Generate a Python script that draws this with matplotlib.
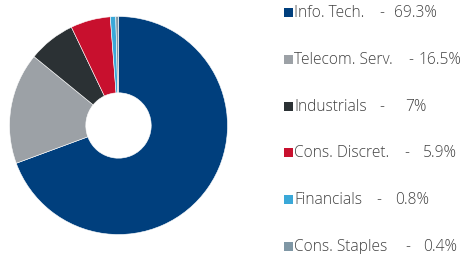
import matplotlib
matplotlib.use("Agg")
import matplotlib.pyplot as plt
from matplotlib.patches import Rectangle

# sector weights, in clockwise order from 12 o'clock
sectors = ["Info. Tech.", "Telecom. Serv.", "Industrials", "Cons. Discret.",
           "Financials", "Cons. Staples"]
weights = [69.3, 16.5, 7.0, 5.9, 0.8, 0.4]
weight_labels = ["69.3%", "16.5%", "7%", "5.9%", "0.8%", "0.4%"]
colors = ["#003f7d", "#9ca1a6", "#2b3134", "#c8102e", "#3aa8d8", "#7f97a5"]

W, H = 461, 255
fig = plt.figure(figsize=(W / 100, H / 100), dpi=100)

# donut
cx, cy, r = 118.5, H - 126.5, 109
ax = fig.add_axes([(cx - r) / W, (cy - r) / H, 2 * r / W, 2 * r / H])
ax.pie(weights, colors=colors, startangle=90, counterclock=False, radius=1,
       wedgeprops=dict(width=0.70, edgecolor="white", linewidth=0.4))
ax.set_xlim(-1, 1)
ax.set_ylim(-1, 1)
ax.set_aspect("equal")
ax.axis("off")

# legend, drawn by hand (pixel positions of dash and value per row)
row_y = [13, 60, 107, 153, 200, 247]
dash_x = [382, 411, 382, 407, 379, 408]
val_x = [394, 418.5, 405, 423, 395, 423]
txt = dict(fontsize=11.2, color="#404040", family="Open Sans", weight="light",
           va="center")
for i, (name, lab, col) in enumerate(zip(sectors, weight_labels, colors)):
    y = (H - row_y[i]) / H
    fig.add_artist(Rectangle((283.5 / W, (H - row_y[i] - 4.5) / H), 9 / W, 9 / H,
                             transform=fig.transFigure, color=col, lw=0))
    fig.text(294.5 / W, y, name, ha="left", **txt)
    fig.text(dash_x[i] / W, y, "-", ha="center", **txt)
    fig.text(val_x[i] / W, y, lab, ha="left", **txt)

fig.savefig("out.png", dpi=100)
